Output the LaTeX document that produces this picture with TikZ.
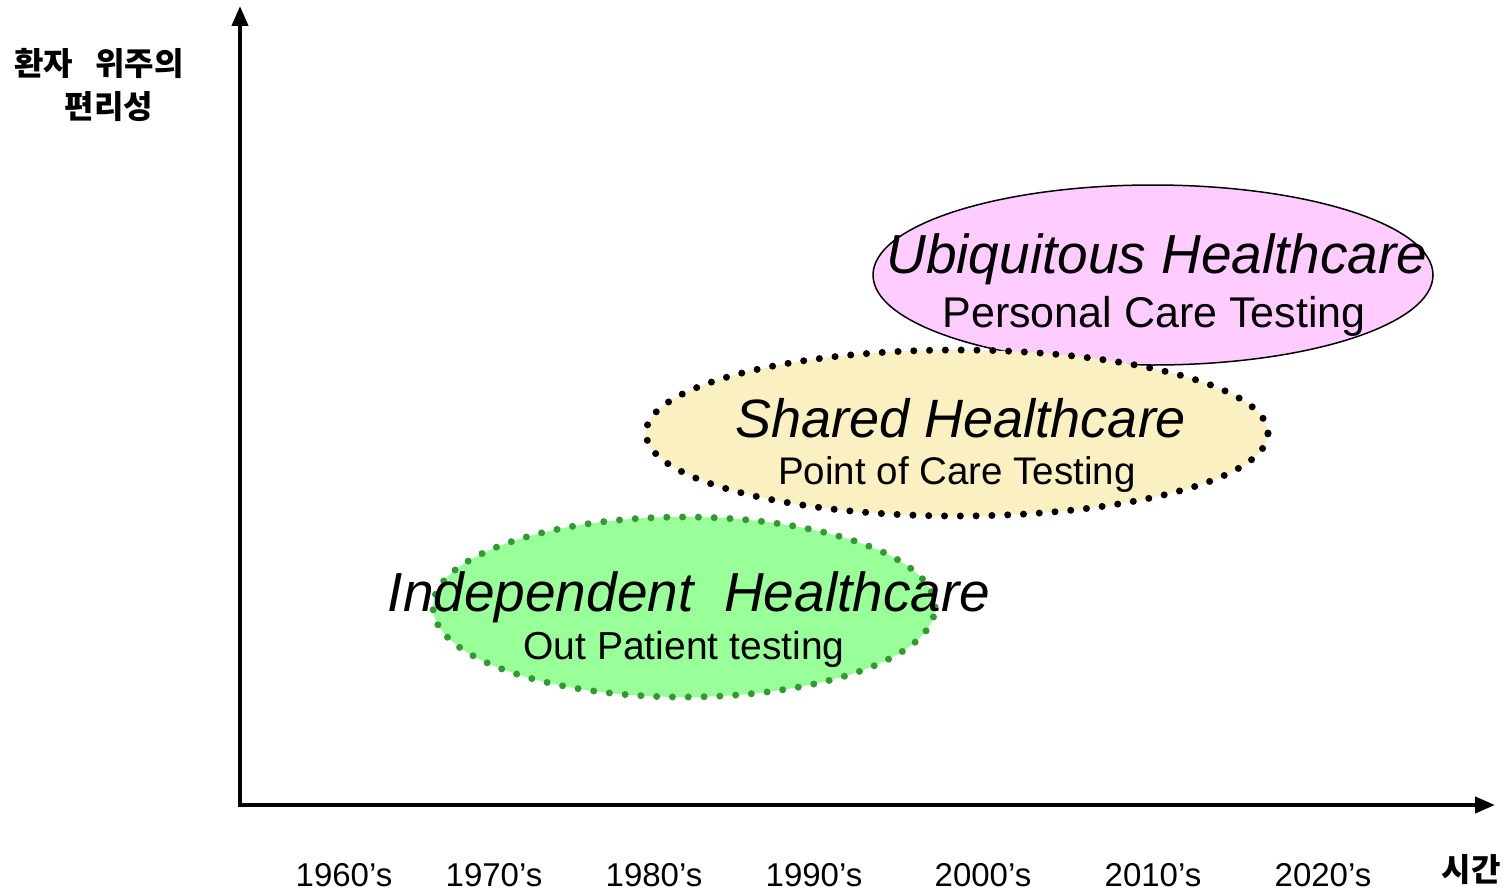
\documentclass[tikz,border=0pt]{standalone}
\usepackage{fontspec}
\setmainfont{Liberation Sans}
\newfontfamily\krfont{Noto Sans CJK KR}
\usetikzlibrary{shapes.geometric,arrows.meta}
\definecolor{pinkfill}{HTML}{FFCCFF}
\definecolor{creamfill}{HTML}{FAF0C2}
\definecolor{greenfill}{HTML}{99FF99}
\definecolor{greendots}{HTML}{339933}
\newcommand{\fsz}[1]{\fontsize{#1}{#1}\selectfont}
\tikzset{
  axis/.style={line width=4pt, -{Triangle[length=20pt,width=16pt]}},
  era/.style={ellipse, inner sep=0pt},
  dotline/.style={line width=7pt, line cap=round, dash pattern=on 0pt off 15.8pt},
  title/.style={anchor=base, font=\fsz{55}\itshape},
  subtitle/.style={anchor=base},
  year/.style={anchor=base, font=\fsz{33}},
  krlabel/.style={font=\krfont\bfseries\fsz{32}}
}
\begin{document}
\begin{tikzpicture}[x=1pt,y=-1pt]
  \useasboundingbox (0,0) rectangle (1504,891);

  % era ellipses
  \node[era, draw=black, line width=1.5pt, fill=pinkfill,
        minimum width=560pt, minimum height=180pt] (ubi) at (1153,275) {};
  \node[era, fill=creamfill, minimum width=622pt, minimum height=166pt] (shared) at (957,433) {};
  \draw[dotline, black] (shared) ellipse [x radius=311pt, y radius=83pt];
  \node[era, fill=greenfill, minimum width=502pt, minimum height=180pt] (indep) at (684,607) {};
  \draw[dotline, greendots] (indep) ellipse [x radius=251pt, y radius=90pt];

  % labels of the eras
  \node[title] (ubiT) at (1157,273) {Ubiquitous Healthcare};
  \node[subtitle, font=\fsz{43}] (ubiS) at (1154,327) {Personal Care Testing};
  \node[title, font=\fsz{54}\itshape] (sharedT) at (961,437) {Shared Healthcare};
  \node[subtitle, font=\fsz{38.5}] (sharedS) at (957,484) {Point of Care Testing};
  \node[title] (indepT) at (689,611) {Independent\ \ Healthcare};
  \node[subtitle, font=\fsz{39}] (indepS) at (684,659) {Out Patient testing};

  % axes
  \coordinate (O) at (240,805);
  \coordinate (ytop) at (240,6);
  \coordinate (xend) at (1495,805);
  \draw[axis] ([yshift=2pt]O) -- (ytop);
  \draw[axis] ([xshift=-2pt]O) -- (xend);

  % axis labels
  \node[krlabel] (ylab1) at (99,63) {환자\hspace{0.7em}위주의};
  \node[krlabel] (ylab2) at (109,107) {편리성};
  \node[krlabel] (xlab) at (1471,870) {시간};

  % decades
  \node[year] (y60) at (344,886) {1960’s};
  \node[year] (y70) at (494,886) {1970’s};
  \node[year] (y80) at (654,886) {1980’s};
  \node[year] (y90) at (814,886) {1990’s};
  \node[year] (y00) at (983,886) {2000’s};
  \node[year] (y10) at (1153,886) {2010’s};
  \node[year] (y20) at (1323,886) {2020’s};
\end{tikzpicture}
\end{document}
